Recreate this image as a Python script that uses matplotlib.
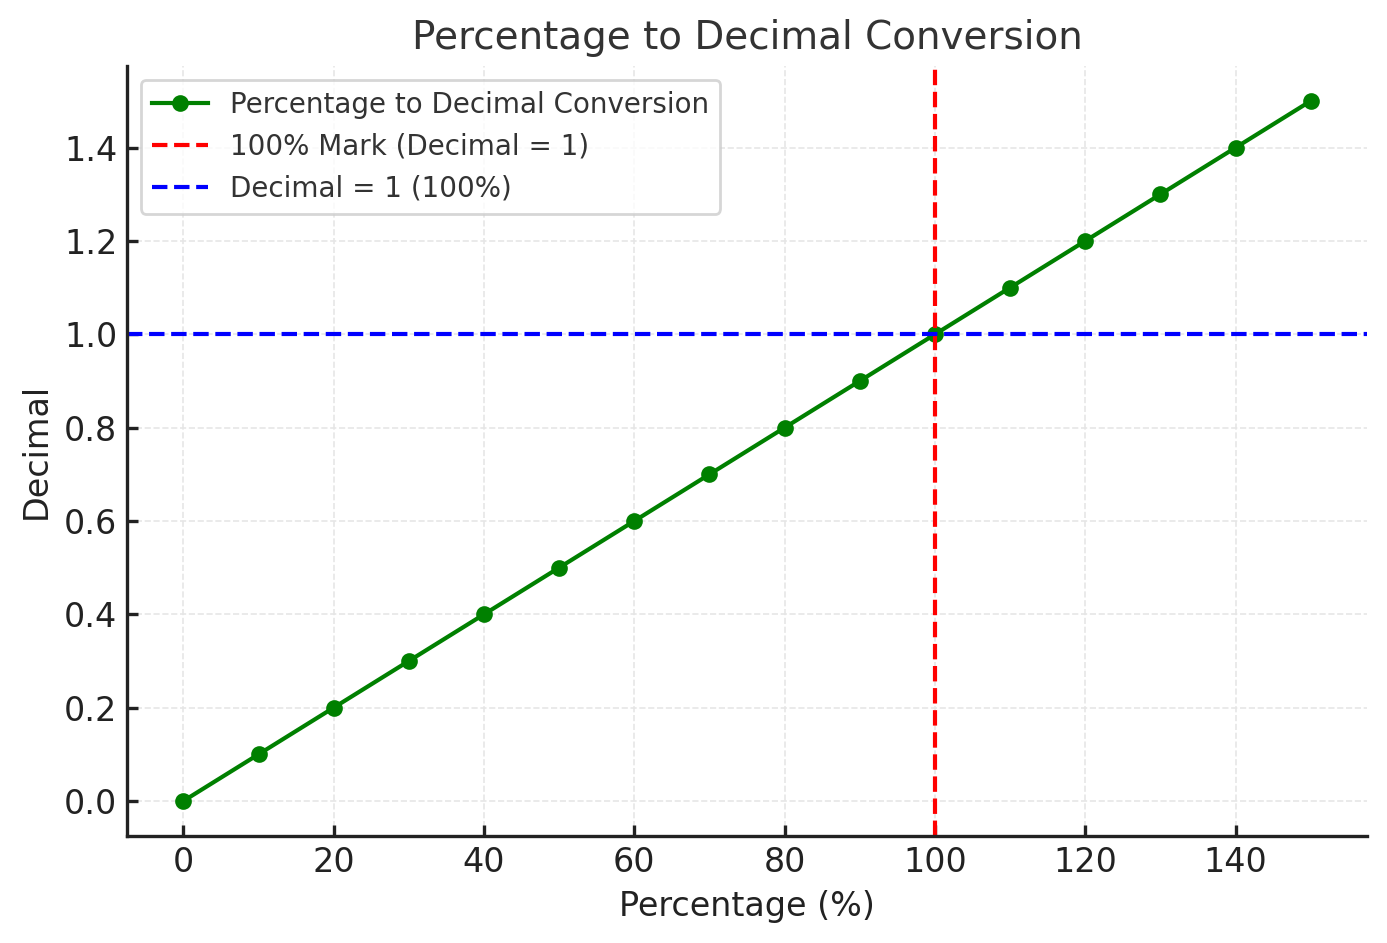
import matplotlib
matplotlib.use("Agg")
import matplotlib.pyplot as plt

percentages = [0, 10, 20, 30, 40, 50, 60, 70, 80, 90, 100, 110, 120, 130, 140, 150]
decimals = [0.0, 0.1, 0.2, 0.3, 0.4, 0.5, 0.6, 0.7, 0.8, 0.9, 1.0, 1.1, 1.2, 1.3, 1.4, 1.5]

fig = plt.figure(figsize=(6.935, 4.715), dpi=200)
ax = fig.add_axes([0.0916, 0.1135, 0.894, 0.8165])

ax.plot(percentages, decimals, color="green", marker="o", linewidth=1.5, markersize=5,
        label="Percentage to Decimal Conversion")
ax.axvline(100, color="red", linestyle="--", linewidth=1.5, label="100% Mark (Decimal = 1)")
ax.axhline(1, color="blue", linestyle="--", linewidth=1.5, label="Decimal = 1 (100%)")

ax.set_title("Percentage to Decimal Conversion", fontsize=14, color="#333333")
ax.set_xlabel("Percentage (%)", fontsize=12, color="#222222")
ax.set_ylabel("Decimal", fontsize=12, color="#222222")
ax.tick_params(labelsize=12, colors="#222222", direction="in", length=4, width=1.2)
ax.grid(True, linestyle="--", color="#e6e6e6", linewidth=0.6)
for s in ["top", "right"]:
    ax.spines[s].set_visible(False)
for s in ["left", "bottom"]:
    ax.spines[s].set_linewidth(1.2)
    ax.spines[s].set_color("#222222")
leg = ax.legend(loc="upper left", fontsize=10, framealpha=0.8)
for t in leg.get_texts():
    t.set_color("#333333")

fig.savefig("out.png", dpi=200)
